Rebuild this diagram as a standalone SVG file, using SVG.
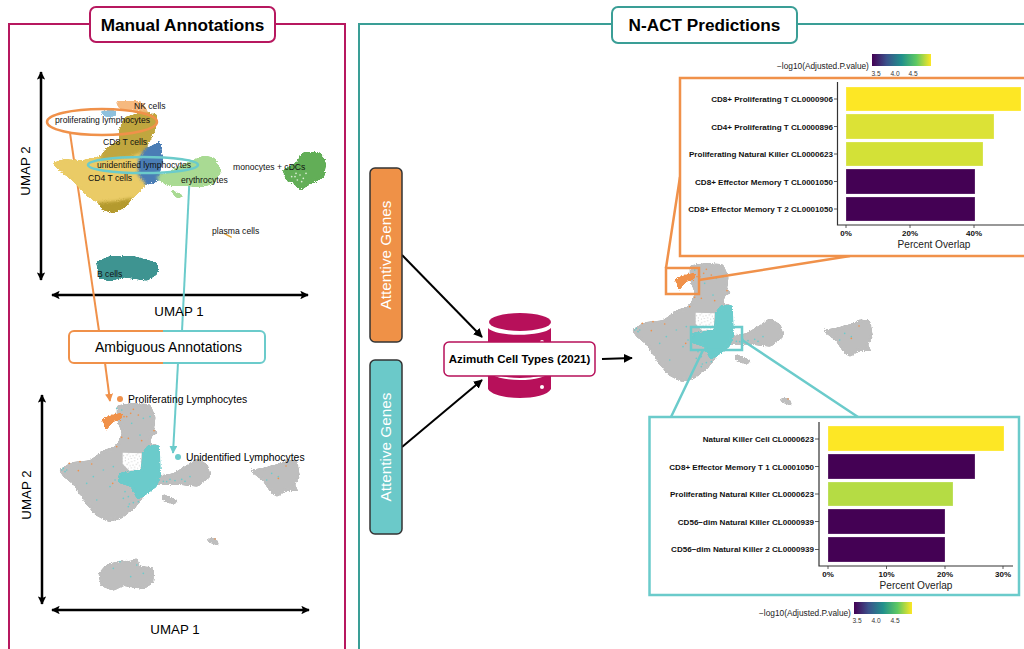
<svg xmlns="http://www.w3.org/2000/svg" width="1024" height="649" viewBox="0 0 1024 649">
<style>
text{font-family:"Liberation Sans",Arial,sans-serif;fill:#000}
.ttl{font-size:17.2px;font-weight:700;text-anchor:middle}
.ax{font-size:13.3px;text-anchor:middle}
.lb{font-size:8.6px;fill:#111}
.cl{font-size:8.05px;font-weight:700;text-anchor:end;fill:#111}
.tk{font-size:8px;font-weight:700;text-anchor:middle;fill:#111}
.po{font-size:10.1px;text-anchor:middle;fill:#222}
.lg{font-size:8.3px;fill:#222}
.lt{font-size:6.6px;text-anchor:middle;fill:#333}
.bk{stroke:#000;fill:none}
.o{stroke:#F0914A;fill:none}
.t{stroke:#6BCBCB;fill:none}
.bar{stroke:#fff;stroke-opacity:.35;stroke-width:.7}
.axl{stroke:#333;stroke-width:1.2;fill:none}
.mk{stroke:#333;stroke-width:.8}
</style>
<defs>
<filter id="fz" x="-15%" y="-15%" width="130%" height="130%" color-interpolation-filters="sRGB"><feGaussianBlur stdDeviation="5" result="b"/><feColorMatrix in="b" type="matrix" values="1 0 0 0 0 0 1 0 0 0 0 0 1 0 0 0 0 0 10 -4.2" result="r"/><feTurbulence type="fractalNoise" baseFrequency=".3" numOctaves="2" seed="4" result="n"/><feDisplacementMap in="r" in2="n" scale="9" xChannelSelector="R" yChannelSelector="G"/></filter>
<pattern id="spk" width="28" height="28" patternUnits="userSpaceOnUse"><rect width="28" height="28" fill="#fff"/><path d="M3,5h.1M12,2h.1M22,8h.1M7,15h.1M17,13h.1M26,17h.1M2,24h.1M12,22h.1M21,25h.1" stroke="#BEBEBE" stroke-width="3" stroke-linecap="round"/></pattern>
<linearGradient id="vir"><stop offset="0" stop-color="#440154"/><stop offset=".25" stop-color="#3B528B"/><stop offset=".5" stop-color="#21908C"/><stop offset=".75" stop-color="#5DC863"/><stop offset="1" stop-color="#FDE725"/></linearGradient>
<marker id="ab" viewBox="0 0 10 10" refX="9" refY="5" markerWidth="3.4" markerHeight="3.4" orient="auto-start-reverse"><path d="M0,0 10,5 0,10 2,5z" fill="#000"/></marker>
<marker id="as" viewBox="0 0 10 10" refX="9" refY="5" markerWidth="4.5" markerHeight="4.5" orient="auto"><path d="M0,0 10,5 0,10z" fill="#000"/></marker>
<marker id="ao" viewBox="0 0 10 10" refX="9" refY="5" markerWidth="4" markerHeight="4" orient="auto"><path d="M0,0 10,5 0,10z" fill="#F0914A"/></marker>
<marker id="at" viewBox="0 0 10 10" refX="9" refY="5" markerWidth="4" markerHeight="4" orient="auto"><path d="M0,0 10,5 0,10z" fill="#6BCBCB"/></marker>
<g id="umap">
<g fill="#BEBEBE" filter="url(#fz)">
<path d="M176,450 215,426 270,421 310,391 350,376 366,340 350,300 350,256 400,249 450,252 467,290 462,330 450,370 474,374 480,466 520,460 560,436 590,414 624,434 632,470 594,500 540,495 470,495 434,526 404,566 364,596 325,606 286,586 256,550 220,494 190,470Z"/>
<path d="M482,520 535,540 522,556 490,542Z"/><path d="M455,325 478,338 460,346Z"/>
<path d="M746,450 790,443 830,433 860,418 892,422 900,470 884,495 898,514 860,512 830,532 808,512 788,482Z"/>
<path d="M614,656 648,653 660,678 632,670Z"/>
<path d="M295,760 320,732 365,722 395,722 412,712 418,738 462,742 460,788 432,808 370,798 340,813 302,798Z"/>
</g>
<path d="M368,398 425,400 422,450 388,452 368,432Z" fill="url(#spk)"/>
<path d="M356,458 385,455 424,448 426,398 444,374 480,376 482,472 470,500 436,526 412,540 392,500 354,488Z" fill="#6BCBCB" filter="url(#fz)"/>
<path d="M303,298 335,284 368,278 366,296 338,306 326,322 316,335 313,312Z" fill="#F0914A" filter="url(#fz)"/>
<path d="M185,450h.1M195,455h.1M350,265h.1M365,270h.1M450,290h.1M430,295h.1M395,310h.1M420,345h.1M310,450h.1M280,470h.1M340,440h.1M260,490h.1M330,500h.1M290,540h.1M370,535h.1M385,560h.1M490,484h.1M510,478h.1M525,482h.1M545,478h.1M570,470h.1M500,485h.1M555,484h.1M815,460h.1M800,480h.1M835,470h.1M360,725h.1M340,745h.1M392,770h.1M430,760h.1M410,735h.1M345,480h.1M375,515h.1M385,530h.1M400,548h.1M415,545h.1M388,552h.1M190,445h.1M200,450h.1" stroke="#6BCBCB" stroke-width="5" stroke-linecap="round"/>
<path d="M208,430h.1M240,425h.1M235,452h.1M275,432h.1M350,380h.1M385,355h.1M365,352h.1M425,362h.1M338,490h.1M400,268h.1M415,285h.1M380,290h.1M392,280h.1M372,290h.1M858,438h.1M835,475h.1M645,657h.1M462,332h.1" stroke="#F0914A" stroke-width="5" stroke-linecap="round"/>
</g>
</defs>

<g id="connectors">
<path d="M9,649V24H90M275,24H345V649" fill="none" stroke="#B7185F" stroke-width="2"/>
<path d="M359,649V24H612M797,24H1024" fill="none" stroke="#3A9E96" stroke-width="2"/>
<path d="M41,72V280" class="bk" stroke-width="2.500" marker-start="url(#ab)" marker-end="url(#ab)"/>
<path d="M52,295H308" class="bk" stroke-width="2.500" marker-start="url(#ab)" marker-end="url(#ab)"/>
<path d="M42,395V604" class="bk" stroke-width="2.500" marker-start="url(#ab)" marker-end="url(#ab)"/>
<path d="M52,610H309" class="bk" stroke-width="2.500" marker-start="url(#ab)" marker-end="url(#ab)"/>
<path d="M70,133 99,331" class="o" stroke-width="2"/>
<path d="M105,363 110,401" class="o" stroke-width="2" marker-end="url(#ao)"/>
<path d="M190,170 182,331" class="t" stroke-width="2"/>
<path d="M178,363 173,453" class="t" stroke-width="2" marker-end="url(#at)"/>
<path d="M402,255 482,337" class="bk" stroke-width="2" marker-end="url(#as)"/>
<path d="M402,447 482,380" class="bk" stroke-width="2" marker-end="url(#as)"/>
<path d="M602,359 632,358" class="bk" stroke-width="2" marker-end="url(#as)"/>
</g>

<g id="umap-top" transform="scale(.33333)">
<g filter="url(#fz)">
<path fill="#EACB66" d="M155,490 190,478 250,480 300,468 330,443 432,458 442,530 432,562 392,602 340,624 300,612 258,587 218,542 178,512Z"/>
<path fill="#C0A63F" d="M358,388 372,352 420,338 472,342 468,385 452,420 432,452 390,472 296,482 318,445 358,422Z"/>
<path fill="#4A7DB5" d="M432,450 480,423 490,480 472,545 440,555 414,525 414,480Z"/>
<path fill="#B49A2E" d="M292,608 350,603 398,593 377,622 340,640 308,630Z"/>
<path fill="#F6B97F" d="M346,303 422,303 447,337 358,327Z"/>
<path fill="#8FC1DE" d="M298,333 342,328 352,347 318,352Z"/>
<path fill="#A9DA93" d="M468,532 520,508 560,488 610,467 642,472 665,510 642,552 600,562 550,557 500,557Z"/>
<path fill="#A9DA93" d="M508,566 558,590 528,594Z"/>
<path fill="#62AE57" d="M848,510 888,488 908,457 962,457 978,490 973,532 932,552 900,572 878,547 858,542Z"/>
<path fill="#3E9491" d="M288,785 330,768 400,768 473,788 473,822 442,842 370,832 330,844 298,837Z"/>
</g>
<path d="M885,530h.1M900,525h.1M892,540h.1M910,535h.1M875,530h.1M905,545h.1M888,520h.1M918,520h.1" stroke="#DDEFD8" stroke-width="5" stroke-linecap="round"/>
<path d="M672,700 695,712" stroke="#E0A030" stroke-width="4"/>
</g>
<g id="umap-top-labels">
<text class="lb" x="134" y="109">NK cells</text>
<text class="lb" x="55" y="123">proliferating lymphocytes</text>
<text class="lb" x="103" y="145">CD8 T cells</text>
<text class="lb" x="97" y="168">unidentified lymphocytes</text>
<text class="lb" x="88" y="181">CD4 T cells</text>
<text class="lb" x="181" y="183">erythrocytes</text>
<text class="lb" x="233" y="170">monocytes + cDCs</text>
<text class="lb" x="212" y="234">plasma cells</text>
<text class="lb" x="97" y="277">B cells</text>
<ellipse cx="102" cy="122" rx="55" ry="13" class="o" stroke-width="2.500"/>
<ellipse cx="143" cy="165" rx="55" ry="8" class="t" stroke-width="2.500"/>
</g>

<g id="umap-bottom" transform="translate(0,320) scale(.33333)"><use href="#umap"/></g>
<g id="umap-right" transform="translate(573,180) scale(.33333)"><use href="#umap"/></g>

<g id="title-manual"><rect x="90" y="7" width="185" height="35" rx="6" fill="#fff" stroke="#B7185F" stroke-width="2"/><text class="ttl" x="182.500" y="31">Manual Annotations</text></g>
<g id="title-nact"><rect x="612" y="7" width="185" height="36" rx="6" fill="#fff" stroke="#3A9E96" stroke-width="2"/><text class="ttl" x="704.500" y="31">N-ACT Predictions</text></g>

<g id="axis-labels">
<text class="ax" transform="translate(30,171) rotate(-90)">UMAP 2</text>
<text class="ax" x="179" y="316">UMAP 1</text>
<text class="ax" transform="translate(31,495) rotate(-90)">UMAP 2</text>
<text class="ax" x="175" y="634">UMAP 1</text>
</g>

<g id="ambiguous">
<rect x="69" y="331" width="196" height="32" rx="5" fill="#fff"/>
<path d="M163,331H74a5,5 0 0 0-5,5v22a5,5 0 0 0 5,5h89" class="o" stroke-width="2"/>
<path d="M163,331H260a5,5 0 0 1 5,5v22a5,5 0 0 1-5,5H163" class="t" stroke-width="2"/>
<text x="168.500" y="352" font-size="14" text-anchor="middle">Ambiguous Annotations</text>
</g>
<g id="legend-prolif"><circle cx="120" cy="399" r="3" fill="#F0914A"/><text x="128" y="403" font-size="10.400">Proliferating Lymphocytes</text></g>
<g id="legend-unid"><circle cx="178" cy="457" r="3" fill="#6BCBCB"/><text x="186" y="461" font-size="10.400">Unidentified Lymphocytes</text></g>

<g id="genes-orange"><rect x="370" y="168" width="32" height="174" rx="5" fill="#EF9147" stroke="#333" stroke-width="1.500"/><text transform="translate(391,255) rotate(-90)" font-size="15.300" text-anchor="middle" style="fill:#fff">Attentive Genes</text></g>
<g id="genes-teal"><rect x="370" y="360" width="32" height="174" rx="5" fill="#6BC9C9" stroke="#333" stroke-width="1.500"/><text transform="translate(391,447) rotate(-90)" font-size="15.300" text-anchor="middle" style="fill:#fff">Attentive Genes</text></g>

<g id="database">
<path d="M488,328C495,337 543,337 551,328V389C545,401 495,401 488,389Z" fill="#B7105A"/>
<ellipse cx="520" cy="322" rx="31" ry="9" fill="#B7105A"/>
<circle cx="542" cy="342" r="2" fill="#fff"/><circle cx="542" cy="387" r="2" fill="#fff"/>
<path d="M488,370C495,382 545,382 551,370" fill="none" stroke="#fff" stroke-width="2"/>
<rect x="444" y="342" width="151" height="34" rx="5" fill="#fff" stroke="#B7105A" stroke-width="1.500"/>
<text x="519.500" y="363" font-size="11.500" font-weight="700" text-anchor="middle">Azimuth Cell Types (2021)</text>
</g>

<g id="zoom-orange">
<rect x="666" y="268" width="33" height="26" class="o" stroke-width="2.500"/>
<path d="M666,268 680,177M699,280 850,256" class="o" stroke-width="2.500"/>
<rect x="680" y="78" width="360" height="178" fill="#fff" stroke="#F0914A" stroke-width="2.500"/>
<path d="M837.500,82V225H1024" class="axl"/>
<g class="bar"><rect x="846" y="87" width="175" height="24" fill="#FDE725"/><rect x="846" y="114" width="148" height="25" fill="#DCE236"/><rect x="846" y="142" width="137" height="24" fill="#D3E137"/><rect x="846" y="169" width="129" height="25" fill="#440154"/><rect x="846" y="197" width="129" height="24" fill="#440154"/></g>
<path class="mk" d="M834,99h3M834,126.500h3M834,154h3M834,181.500h3M834,209h3M846,225v3M910,225v3M974,225v3"/>
<text class="cl" x="833" y="102">CD8+ Proliferating T CL0000906</text>
<text class="cl" x="833" y="129.500">CD4+ Proliferating T CL0000896</text>
<text class="cl" x="833" y="157">Proliferating Natural Killer CL0000623</text>
<text class="cl" x="833" y="184.500">CD8+ Effector Memory T CL0001050</text>
<text class="cl" x="833" y="212">CD8+ Effector Memory T 2 CL0001050</text>
<text class="tk" x="846" y="236">0%</text><text class="tk" x="910" y="236">20%</text><text class="tk" x="974" y="236">40%</text>
<text class="po" x="934" y="248">Percent Overlap</text>
</g>
<g id="legend-top"><text class="lg" x="777" y="69">−log10(Adjusted.P.value)</text><rect x="872" y="54" width="59" height="12" fill="url(#vir)"/><text class="lt" x="876" y="76">3.5</text><text class="lt" x="895" y="76">4.0</text><text class="lt" x="913" y="76">4.5</text></g>

<g id="zoom-teal">
<rect x="691" y="327" width="51" height="23" class="t" stroke-width="2.500"/>
<path d="M703,350 671,417M742,340 858,417" class="t" stroke-width="2.500"/>
<rect x="649.500" y="417" width="369.500" height="178" fill="#fff" stroke="#6BCBCB" stroke-width="2.500"/>
<path d="M819,422V566H1013" class="axl"/>
<g class="bar"><rect x="828" y="426" width="176" height="25" fill="#FDE725"/><rect x="828" y="454" width="147" height="25" fill="#440154"/><rect x="828" y="482" width="125" height="24" fill="#B5DC44"/><rect x="828" y="509" width="117" height="25" fill="#440154"/><rect x="828" y="537" width="117" height="25" fill="#440154"/></g>
<path class="mk" d="M815,439h4M815,466.500h4M815,494h4M815,521.500h4M815,549.500h4M828,566v3M886.500,566v3M945,566v3M1003,566v3"/>
<text class="cl" x="814" y="441.500">Natural Killer Cell CL0000623</text>
<text class="cl" x="814" y="469.500">CD8+ Effector Memory T 1 CL0001050</text>
<text class="cl" x="814" y="497">Proliferating Natural Killer CL0000623</text>
<text class="cl" x="814" y="524.500">CD56−dim Natural Killer CL0000939</text>
<text class="cl" x="814" y="552">CD56−dim Natural Killer 2 CL0000939</text>
<text class="tk" x="828" y="577">0%</text><text class="tk" x="886.500" y="577">10%</text><text class="tk" x="945" y="577">20%</text><text class="tk" x="1003" y="577">30%</text>
<text class="po" x="916" y="589">Percent Overlap</text>
</g>
<g id="legend-bottom"><text class="lg" x="759" y="616">−log10(Adjusted.P.value)</text><rect x="854" y="602" width="58" height="12" fill="url(#vir)"/><text class="lt" x="857" y="623">3.5</text><text class="lt" x="876" y="623">4.0</text><text class="lt" x="895" y="623">4.5</text></g>
</svg>
